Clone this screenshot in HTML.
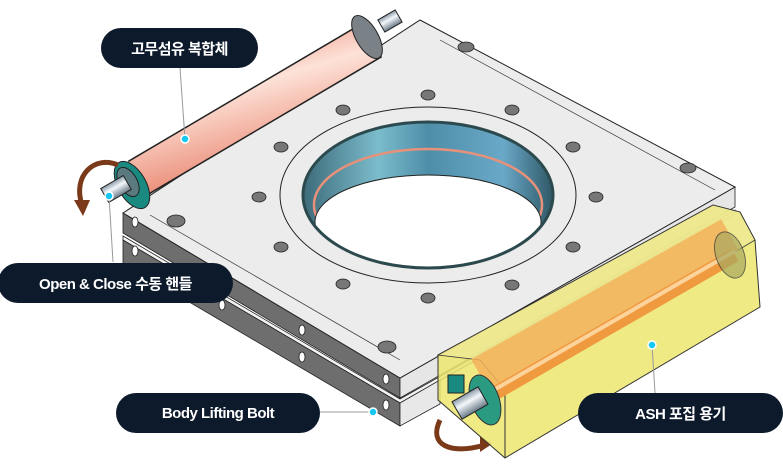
<!DOCTYPE html>
<html><head><meta charset="utf-8"><style>
html,body{margin:0;padding:0;background:#fff;width:783px;height:470px;overflow:hidden}
.pill{position:absolute;background:#0c1a2c;color:#fff;font-family:"Liberation Sans","Noto Sans CJK KR",sans-serif;font-weight:bold;font-size:15px;display:flex;align-items:center;justify-content:center;border-radius:21px;letter-spacing:-0.5px}
</style></head><body>
<svg width="783" height="470" style="position:absolute;left:0;top:0">
<defs>
<linearGradient id="rub" x1="0" y1="0" x2="0.5" y2="1"><stop offset="0" stop-color="#e8735c"/><stop offset="0.45" stop-color="#fde2d8"/><stop offset="1" stop-color="#e8816a"/></linearGradient>
<linearGradient id="bore" x1="0" y1="0" x2="1" y2="0"><stop offset="0" stop-color="#3d6b7a"/><stop offset="0.3" stop-color="#7bbccc"/><stop offset="0.5" stop-color="#4f8ea8"/><stop offset="0.8" stop-color="#6aa8c8"/><stop offset="1" stop-color="#2f5866"/></linearGradient>
<linearGradient id="bolt" x1="0" y1="0" x2="0" y2="1"><stop offset="0" stop-color="#8a9aa8"/><stop offset="0.4" stop-color="#f4f8fb"/><stop offset="1" stop-color="#6a7a88"/></linearGradient>
<clipPath id="boreclip"><ellipse cx="428" cy="195" rx="125" ry="73"/></clipPath>
</defs>
<polygon points="123,236 400,399 735,210 735,214 400,403 123,240" fill="#f2f2f2" stroke="#222" stroke-width="0.8"/>
<polygon points="123,240 400,403 400,426 123,263" fill="#6e6e6e" stroke="#222" stroke-width="0.8"/>
<polygon points="400,403 440,380 440,404 400,426" fill="#e8e8e8" stroke="#222" stroke-width="0.8"/>
<polygon points="123,213 400,378 400,398 123,233" fill="#6e6e6e" stroke="#222" stroke-width="0.8"/>
<polygon points="400,378 735,187 735,207 400,398" fill="#e6e6e6" stroke="#222" stroke-width="0.8"/>
<polygon points="123,213 420,20 735,187 400,378" fill="#ececec" stroke="#222" stroke-width="1"/>
<polyline points="150,215 400,360" fill="none" stroke="#333" stroke-width="0.7"/>
<polyline points="440,40 715,190" fill="none" stroke="#333" stroke-width="0.7"/>
<g fill="#fff" stroke="#222" stroke-width="0.8">
<ellipse cx="135" cy="222" rx="3" ry="5"/><ellipse cx="135" cy="251" rx="3" ry="5"/>
<ellipse cx="222" cy="305" rx="3" ry="5"/><ellipse cx="302" cy="330" rx="3" ry="5"/><ellipse cx="302" cy="357" rx="3" ry="5"/>
<ellipse cx="386" cy="379" rx="3" ry="5"/><ellipse cx="386" cy="405" rx="3" ry="5"/>
</g>
<ellipse cx="428" cy="195" rx="148" ry="88" fill="none" stroke="#222" stroke-width="1"/>
<ellipse cx="428" cy="195" rx="125" ry="73" fill="url(#bore)" stroke="#222" stroke-width="2"/>
<g clip-path="url(#boreclip)">
<ellipse cx="428" cy="205" rx="114" ry="56" fill="none" stroke="#e8917a" stroke-width="2.5"/>
<ellipse cx="428" cy="222" rx="113" ry="47" fill="#fff" stroke="#222" stroke-width="1"/>
</g>
<ellipse cx="428" cy="195" rx="125" ry="73" fill="none" stroke="#2c4a4e" stroke-width="3"/>
<g fill="#777" stroke="#222" stroke-width="0.8">
<ellipse cx="428" cy="95" rx="7" ry="5"/><ellipse cx="343" cy="110" rx="7" ry="5"/><ellipse cx="512" cy="110" rx="7" ry="5"/>
<ellipse cx="281" cy="147" rx="7" ry="5"/><ellipse cx="573" cy="147" rx="7" ry="5"/><ellipse cx="259" cy="197" rx="7" ry="5"/>
<ellipse cx="596" cy="197" rx="7" ry="5"/><ellipse cx="281" cy="247" rx="7" ry="5"/><ellipse cx="573" cy="247" rx="7" ry="5"/>
<ellipse cx="343" cy="284" rx="7" ry="5"/><ellipse cx="512" cy="285" rx="7" ry="5"/><ellipse cx="428" cy="298" rx="7" ry="5"/>
<ellipse cx="176" cy="221" rx="9" ry="6"/><ellipse cx="387" cy="347" rx="9" ry="6"/><ellipse cx="466" cy="47" rx="8" ry="5"/><ellipse cx="688" cy="168" rx="8" ry="5"/>
</g>
<line x1="138" y1="178" x2="372" y2="40" stroke="#222" stroke-width="40"/>
<line x1="138" y1="178" x2="372" y2="40" stroke="url(#rub)" stroke-width="37"/>
<ellipse cx="367" cy="37" rx="11" ry="24" transform="rotate(-30 367 37)" fill="#7a8288" stroke="#222"/>
<rect x="380" y="14" width="20" height="14" fill="url(#bolt)" stroke="#222" transform="rotate(-30 390 21)"/>
<ellipse cx="132" cy="185" rx="14" ry="26" transform="rotate(-30 132 185)" fill="#1a8a80" stroke="#222"/>
<ellipse cx="128" cy="182" rx="9" ry="16" transform="rotate(-30 128 182)" fill="#5a7a80" stroke="#222"/>
<rect x="103" y="181" width="26" height="16" fill="url(#bolt)" stroke="#222" transform="rotate(-30 116 189)"/>
<path d="M118,165 C95,155 72,175 82,205" fill="none" stroke="#7a3a1a" stroke-width="5"/>
<polygon points="74,200 90,200 83,216" fill="#7a3a1a"/>
<path d="M440,420 C428,445 450,455 485,445" fill="none" stroke="#7a3a1a" stroke-width="5"/>
<polygon points="480,436 492,444 480,452" fill="#7a3a1a"/>
<polygon points="438,355 713,205 740,212 755,240 760,307 505,458 438,400" fill="#ece66e" fill-opacity="0.85" stroke="#333" stroke-width="1"/>
<polygon points="438,355 713,205 740,212 755,240 505,390 480,360" fill="#f0ea98" fill-opacity="0.7" stroke="#333" stroke-width="0.8"/>
<line x1="505" y1="390" x2="505" y2="458" stroke="#333" stroke-width="1"/>
<line x1="480" y1="375" x2="730" y2="235" stroke="#f3b15c" stroke-width="36" stroke-opacity="0.85"/>
<line x1="492" y1="395" x2="735" y2="255" stroke="#f09a40" stroke-width="14"/>
<line x1="492" y1="391" x2="735" y2="251" stroke="#fcd39a" stroke-width="4"/>
<ellipse cx="485" cy="400" rx="14" ry="26" transform="rotate(-20 485 400)" fill="#2a9a80" stroke="#333"/>
<ellipse cx="730" cy="255" rx="14" ry="24" transform="rotate(-20 730 255)" fill="#a8a860" stroke="#333" opacity="0.7"/>
<rect x="455" y="393" width="30" height="20" fill="url(#bolt)" stroke="#222" transform="rotate(-30 470 403)"/>
<rect x="448" y="375" width="16" height="18" fill="#1a8a80" stroke="#222"/>
<g stroke="#999" stroke-width="1">
<line x1="180" y1="68" x2="185" y2="139"/>
<line x1="109" y1="196" x2="113" y2="262"/>
<line x1="320" y1="412" x2="373" y2="412"/>
<line x1="652" y1="345" x2="655" y2="393"/>
</g>
<g fill="#14c8f2" stroke="#fff" stroke-width="1.5">
<circle cx="185" cy="139" r="4"/><circle cx="109" cy="196" r="4"/><circle cx="373" cy="412" r="4"/><circle cx="652" cy="345" r="4"/>
</g>
</svg>
<div class="pill" style="left:101px;top:28px;width:157px;height:40px">고무섬유 복합체</div>
<div class="pill" style="left:-2px;top:263px;width:235px;height:40px">Open &amp; Close 수동 핸들</div>
<div class="pill" style="left:116px;top:393px;width:204px;height:40px">Body Lifting Bolt</div>
<div class="pill" style="left:578px;top:393px;width:205px;height:40px">ASH 포집 용기</div>
</body></html>
